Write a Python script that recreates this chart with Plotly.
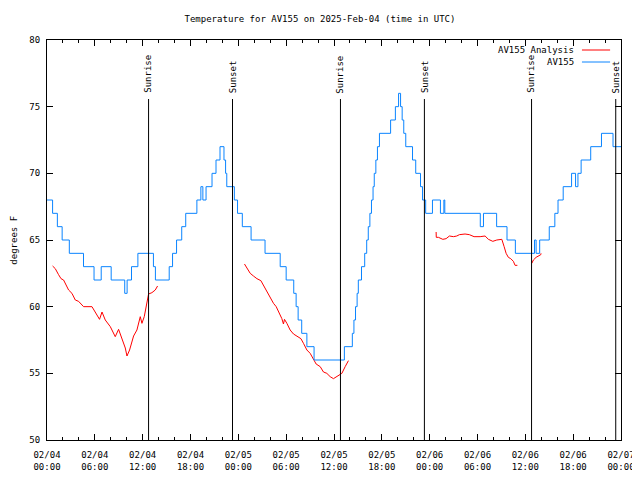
import datetime as dt
import plotly.graph_objects as go

# ---------------- data ----------------
base_time = dt.datetime(2025, 2, 4, 0, 0)

# AV155 observed (hours after 2025-02-04 00:00 UTC, degrees F)
blue_hours = [0, 0.70, 1.30, 1.90, 2.80, 4.58, 5.90, 6.80, 8.05, 9.75, 10.05, 10.60, 11.40,
              13.35, 13.60, 15.33, 15.75, 16.25, 16.90, 17.40, 18.80, 19.30, 19.55, 19.95,
              20.70, 21.20, 21.70, 22.20, 22.40, 22.55, 23.50, 23.90, 24.50, 25.60, 27.35,
              29.25, 30.00, 30.95, 31.25, 31.50, 31.95, 32.60, 33.50, 37.30, 38.30, 38.50,
              38.70, 38.90, 39.05, 39.45, 39.85, 40.10, 40.30, 40.50, 40.70, 40.90, 41.05,
              41.25, 41.45, 41.70, 43.10, 43.70, 44.10, 44.35, 44.55, 44.75, 45.00, 45.85,
              46.25, 46.85, 47.10, 47.50, 48.35, 49.35, 49.78, 49.90, 54.35, 54.75, 56.40,
              57.70, 58.75, 61.15, 61.35, 61.80, 63.00, 63.70, 64.10, 64.75, 65.80, 66.30,
              66.60, 67.00, 68.20, 69.55, 71.00, 72.00]
blue_temps = [68, 67, 66, 65, 64, 63, 62, 63, 62, 61, 62, 63, 64,
              63, 62, 63, 64, 65, 66, 67, 68, 69, 68, 69,
              70, 71, 72, 71, 70, 69, 68, 67, 66, 65, 64,
              63, 62, 61, 60, 59, 58, 57, 56, 57, 58, 59,
              60, 61, 62, 63, 64, 65, 66, 67, 68, 69, 70,
              71, 72, 73, 74, 75, 76, 75, 74, 73, 72, 71,
              70, 69, 68, 67, 68, 67, 68, 67, 66, 67, 66,
              65, 64, 65, 64, 65, 66, 67, 68, 69, 70, 69,
              70, 71, 72, 73, 72, 72]

# AV155 Analysis (None = gap)
red_hours = [0.70, 1.04, 1.45, 1.76, 2.08, 2.71, 3.13, 3.55, 3.96, 4.39, 4.59, 5.64, 6.06,
             6.59, 6.90, 7.31, 7.94, 8.56, 8.98, 9.40, 9.82, 10.03, 10.36, 10.86, 11.28,
             11.70, 11.91, 12.20, 12.45, 12.74, 13.16, 13.58, 13.87, None,
             24.77, 25.08, 25.49, 25.90, 26.33, 26.83, 27.16, 27.58, 28.00, 28.41, 28.75,
             29.16, 29.46, 29.66, 29.79, 30.09, 30.50, 30.92, 31.34, 31.85, 32.17, 32.60,
             33.01, 33.43, 33.76, 34.27, 34.68, 35.10, 35.52, 35.93, 36.36, 36.77, 36.99,
             37.40, 37.81, None,
             48.81, 48.83, 49.10, 49.65, 50.06, 50.48, 50.98, 51.40, 51.73, 52.44, 52.98,
             53.57, 54.33, 54.95, 55.37, 55.92, 56.42, 57.05, 57.34, 57.59, 57.87, 58.17,
             58.50, 58.71, 59.00, None,
             60.81, 61.01, 61.35, 61.63, 61.94, 61.97]
red_temps = [63.05, 62.85, 62.4, 62.1, 62.0, 61.25, 61.0, 60.5, 60.4, 60.1, 60.0, 60.0, 59.6,
             59.05, 59.6, 59.0, 58.5, 57.75, 58.3, 57.55, 56.9, 56.3, 56.75, 57.8, 58.25,
             59.25, 58.75, 59.25, 60.1, 60.95, 61.05, 61.25, 61.55, None,
             63.2, 62.9, 62.5, 62.3, 62.1, 61.95, 61.6, 61.1, 60.75, 60.25, 60.0,
             59.5, 59.1, 58.7, 59.05, 58.75, 58.25, 57.95, 57.8, 57.6, 57.25, 56.75,
             56.5, 56.1, 55.7, 55.5, 55.1, 55.0, 54.75, 54.6, 54.75, 54.9, 55.0,
             55.5, 55.95, None,
             65.6, 65.2, 65.2, 65.05, 65.1, 65.3, 65.25, 65.3, 65.4, 65.45, 65.4,
             65.25, 65.25, 65.3, 65.05, 64.9, 65.0, 65.05, 64.5, 64.0, 63.7, 63.6,
             63.4, 63.1, 63.1, None,
             63.25, 63.5, 63.7, 63.8, 63.9, 64.0]

sun_hours = [12.74, 23.27, 36.81, 47.34, 60.78, 71.34]
sun_labels = ["Sunrise", "Sunset", "Sunrise", "Sunset", "Sunrise", "Sunset"]

x_tick_hours = [0, 6, 12, 18, 24, 30, 36, 42, 48, 54, 60, 66, 72]
x_tick_labels = ["02/04<br>00:00", "02/04<br>06:00", "02/04<br>12:00", "02/04<br>18:00",
                 "02/05<br>00:00", "02/05<br>06:00", "02/05<br>12:00", "02/05<br>18:00",
                 "02/06<br>00:00", "02/06<br>06:00", "02/06<br>12:00", "02/06<br>18:00",
                 "02/07<br>00:00"]
minor_tick_hours = list(range(0, 73, 2))
y_ticks = [50, 55, 60, 65, 70, 75, 80]

title_text = "Temperature for AV155 on 2025-Feb-04 (time in UTC)"
series_names = ["AV155 Analysis", "AV155"]


def to_time(h):
    return None if h is None else base_time + dt.timedelta(hours=h)


RED = "#ff0000"
BLUE = "#0a84ff"
FONT = "DejaVu Sans Mono"

fig = go.Figure()
fig.add_trace(go.Scatter(x=[to_time(h) for h in red_hours], y=red_temps, mode="lines",
                         name=series_names[0], line=dict(color=RED, width=1),
                         connectgaps=False))
fig.add_trace(go.Scatter(x=[to_time(h) for h in blue_hours], y=blue_temps, mode="lines",
                         name=series_names[1], line=dict(color=BLUE, width=1, shape="hv")))

# sunrise / sunset markers
for h, lab in zip(sun_hours, sun_labels):
    fig.add_shape(type="line", xref="x", yref="paper", x0=to_time(h), x1=to_time(h),
                  y0=0, y1=0.8525, line=dict(color="black", width=1))
    fig.add_annotation(x=to_time(h), xref="x", y=0.862, yref="paper", text=lab,
                       textangle=-90, showarrow=False, xanchor="center", yanchor="bottom",
                       font=dict(family=FONT, size=9, color="black"))

# manual legend (text left, sample line right)
legend_rows = [(0.975, RED), (0.945, BLUE)]
for (ly, col), name in zip(legend_rows, series_names):
    fig.add_annotation(x=0.921, xref="paper", y=ly, yref="paper", text=name,
                       showarrow=False, xanchor="right", yanchor="middle",
                       font=dict(family=FONT, size=9, color="black"))
    fig.add_shape(type="line", xref="paper", yref="paper", x0=0.932, x1=0.981,
                  y0=ly, y1=ly, line=dict(color=col, width=1))

# y-axis title
fig.add_annotation(x=-0.058, xref="paper", y=0.5, yref="paper", text="degrees F",
                   textangle=-90, showarrow=False, xanchor="center", yanchor="middle",
                   font=dict(family=FONT, size=9, color="black"))

# the page body adds an 8px offset; margins compensate so the plot area sits at 47..621 x 40..440
fig.update_layout(
    width=640, height=480,
    margin=dict(l=39, r=27, t=32, b=48),
    paper_bgcolor="white", plot_bgcolor="white",
    showlegend=False,
    font=dict(family=FONT, size=9, color="black"),
    title=dict(text=title_text, x=0.5 - 8 / 640, xref="container", xanchor="center",
               y=1 - 11 / 480, yref="container", yanchor="middle",
               font=dict(family=FONT, size=9, color="black")),
    xaxis=dict(
        range=[to_time(0), to_time(72)],
        tickmode="array", tickvals=[to_time(h) for h in x_tick_hours], ticktext=x_tick_labels,
        ticks="inside", ticklen=6, tickcolor="black", tickwidth=1,
        minor=dict(tickmode="array", tickvals=[to_time(h) for h in minor_tick_hours],
                   ticks="inside", ticklen=3, tickcolor="black", tickwidth=1, showgrid=False),
        showline=True, linecolor="black", linewidth=1, mirror="allticks",
        showgrid=False, zeroline=False, ticklabelstandoff=6,
        tickfont=dict(family=FONT, size=9, color="black"),
    ),
    yaxis=dict(
        range=[50, 80], tickmode="array", tickvals=y_ticks,
        ticks="inside", ticklen=6, tickcolor="black", tickwidth=1,
        showline=True, linecolor="black", linewidth=1, mirror="allticks",
        showgrid=False, zeroline=False, ticklabelstandoff=4,
        tickfont=dict(family=FONT, size=9, color="black"),
    ),
)

fig.write_html("out.html")
